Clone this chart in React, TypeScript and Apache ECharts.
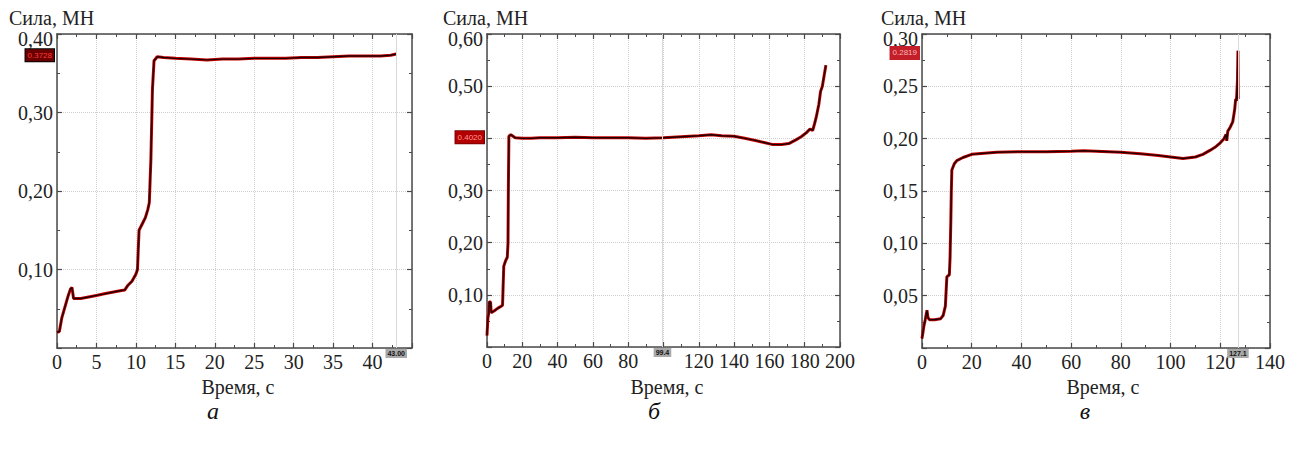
import React, { useEffect, useRef } from "react";
import * as echarts from "echarts";

const FONT = "Liberation Serif";

// ---- Panel а ----
const timeA = [0, 0.3, 0.6, 1.0, 1.4, 1.7, 1.9, 2.1, 3, 4, 5, 6, 7, 8, 8.6, 9.0, 9.5, 10.0, 10.2, 10.4, 10.8, 11.2, 11.5, 11.7, 11.9, 12.1, 12.3, 12.7, 13.5, 15, 17, 19, 21, 23, 25, 27, 29, 31, 33, 35, 37, 39, 41, 42.3, 43];
const forceA = [0.020, 0.021, 0.038, 0.052, 0.066, 0.075, 0.077, 0.063, 0.063, 0.065, 0.067, 0.069, 0.071, 0.073, 0.074, 0.080, 0.085, 0.094, 0.100, 0.150, 0.158, 0.166, 0.176, 0.185, 0.240, 0.330, 0.366, 0.371, 0.370, 0.369, 0.368, 0.367, 0.368, 0.368, 0.369, 0.369, 0.369, 0.370, 0.370, 0.371, 0.372, 0.372, 0.372, 0.373, 0.3745];

// ---- Panel б ----
const timeB = [0, 0.5, 1.0, 1.3, 2.0, 2.4, 4, 6, 8, 8.8, 9.5, 10.5, 11.5, 11.9, 12.1, 12.4, 13.5, 16, 20, 25, 30, 40, 50, 60, 70, 80, 90, 100, 110, 120, 127, 133, 140, 146, 152, 157, 162, 167, 171, 175, 178, 181, 183, 184.5, 185.5, 186.5, 188, 189, 190, 191, 192];
const forceB = [0.022, 0.055, 0.065, 0.087, 0.086, 0.066, 0.069, 0.074, 0.078, 0.080, 0.155, 0.165, 0.172, 0.200, 0.300, 0.404, 0.407, 0.401, 0.400, 0.400, 0.401, 0.401, 0.402, 0.401, 0.401, 0.401, 0.400, 0.401, 0.403, 0.405, 0.407, 0.405, 0.404, 0.400, 0.396, 0.392, 0.388, 0.388, 0.390, 0.397, 0.403, 0.411, 0.418, 0.415, 0.427, 0.440, 0.465, 0.490, 0.500, 0.520, 0.540];

// ---- Panel в ----
const timeC = [0, 0.7, 1.3, 2.0, 2.4, 3, 5, 7.5, 8.5, 9.4, 10.0, 11.0, 11.3, 11.6, 11.8, 12.0, 13, 14, 16.5, 20, 25, 30, 40, 50, 60, 65, 70, 80, 88, 95, 100, 105, 110, 113, 116, 118, 120, 121.5, 122.3, 122.6, 123, 124, 125, 125.8, 126.2, 126.5, 126.9, 127.1, 127.2];
const forceC = [0.009, 0.020, 0.027, 0.036, 0.029, 0.027, 0.027, 0.028, 0.031, 0.040, 0.068, 0.070, 0.087, 0.122, 0.150, 0.170, 0.176, 0.179, 0.182, 0.185, 0.186, 0.187, 0.1875, 0.1875, 0.188, 0.1885, 0.188, 0.187, 0.1855, 0.184, 0.1825, 0.181, 0.1825, 0.185, 0.189, 0.192, 0.196, 0.200, 0.204, 0.198, 0.207, 0.211, 0.216, 0.228, 0.238, 0.236, 0.255, 0.284, 0.238];

// ---- Axes ----
const xMax = [45, 200, 140];
const xInterval = [5, 20, 20];
const yMax = [0.4, 0.6, 0.3];
const yInterval = [0.1, 0.1, 0.05];
const hiddenXLabels = [[45], [100], [] as number[]];
const hiddenYLabels = [[0], [0, 0.4], [0]];

// ---- Cursor read-outs ----
const cursorTime = [43, 99.4, 127.1];
const cursorTimeLabel = ["43.00", "99.4", "127.1"];
const cursorForce = [0.3728, 0.402, 0.2819];
const cursorForceLabel = ["0.3728", "0.4020", "0.2819"];

// ---- Texts ----
const yName = "Сила, МН";
const xName = "Время, с";
const panelLetters = ["а", "б", "в"];

const zip = (t: number[], f: number[]) => t.map((v, i) => [v, f[i]]);
const panelData = [zip(timeA, forceA), zip(timeB, forceB), zip(timeC, forceC)];

const grids = [
  { left: 57, top: 34, width: 355, height: 314 },
  { left: 487, top: 34, width: 353, height: 313 },
  { left: 922, top: 34, width: 348, height: 314 },
];
const yNamePos = [9, 443, 881];
const xNamePos = [238, 667, 1103];
const letterPos = [213, 654, 1085];

const yBadge = [
  { bg: "#6a0000", border: "#000000", color: "#ff3b3b" },
  { bg: "#b40000", border: "#7a0000", color: "#ff9a9a" },
  { bg: "#c41e2a", border: "#c41e2a", color: "#f6b8b8" },
];

const AXIS_COLOR = "#4a4a4a";

function buildOption() {
  const xAxis: any[] = [];
  const yAxis: any[] = [];
  const series: any[] = [];
  for (let i = 0; i < 3; i++) {
    const common = {
      gridIndex: i,
      type: "value",
      min: 0,
      axisLine: { show: true, onZero: false, lineStyle: { color: AXIS_COLOR, width: 1.5 } },
      axisTick: { show: true, inside: true, length: 5, lineStyle: { color: AXIS_COLOR, width: 1.2 } },
      minorTick: { show: true, splitNumber: 2, length: 3, lineStyle: { color: AXIS_COLOR, width: 1 } },
    };
    xAxis.push({
      ...common,
      position: "bottom",
      max: xMax[i],
      interval: xInterval[i],
      axisLabel: {
        show: true,
        margin: 4,
        color: "#222",
        fontFamily: FONT,
        fontSize: 20,
        formatter: (v: number) => (hiddenXLabels[i].includes(v) ? "" : String(v)),
      },
      splitLine: { show: true, lineStyle: { color: "#cfcfcf", type: "dotted", width: 1 } },
      axisPointer: {
        show: true,
        status: "show",
        value: cursorTime[i],
        snap: false,
        triggerTooltip: false,
        type: "line",
        lineStyle: { color: "#d9d9d9", width: 1, type: "solid" },
        label: {
          show: true,
          formatter: () => cursorTimeLabel[i],
          backgroundColor: "#a9a9a9",
          color: "#111",
          fontWeight: "bold",
          fontFamily: "Liberation Sans",
          fontSize: 7,
          padding: [1, 2],
          margin: 1,
          borderRadius: 0,
          shadowBlur: 0,
        },
      },
    });
    xAxis.push({
      ...common,
      position: "top",
      max: xMax[i],
      interval: xInterval[i],
      axisLabel: { show: false },
      splitLine: { show: false },
    });
    yAxis.push({
      ...common,
      position: "left",
      max: yMax[i],
      interval: yInterval[i],
      axisLabel: {
        show: true,
        margin: 4,
        color: "#222",
        fontFamily: FONT,
        fontSize: 20,
        formatter: (v: number) => {
          if (hiddenYLabels[i].some((h) => Math.abs(h - v) < 1e-9)) return "";
          const s = v.toFixed(2).replace(".", ",");
          return Math.abs(v - yMax[i]) < 1e-9 ? "{top|" + s + "}" : s;
        },
        rich: {
          top: { fontFamily: FONT, fontSize: 20, color: "#222", padding: [10, 0, 0, 0] },
        },
      },
      splitLine: { show: true, lineStyle: { color: "#cfcfcf", type: "dotted", width: 1 } },
      axisPointer: {
        show: true,
        status: "show",
        value: cursorForce[i],
        snap: false,
        triggerTooltip: false,
        type: "line",
        lineStyle: { color: "#ffffff", width: 1, opacity: 0 },
        label: {
          show: true,
          formatter: () => cursorForceLabel[i],
          backgroundColor: yBadge[i].bg,
          borderColor: yBadge[i].border,
          borderWidth: 1,
          color: yBadge[i].color,
          fontFamily: "Liberation Sans",
          fontSize: 8,
          padding: [2, 2],
          margin: 3,
          borderRadius: 0,
          shadowBlur: 0,
        },
      },
    });
    yAxis.push({
      ...common,
      position: "right",
      max: yMax[i],
      interval: yInterval[i],
      axisLabel: { show: false },
      splitLine: { show: false },
    });
    series.push({
      type: "line",
      xAxisIndex: 2 * i,
      yAxisIndex: 2 * i,
      data: panelData[i],
      showSymbol: false,
      silent: true,
      lineStyle: { color: "#c80000", width: 3 },
      z: 3,
    });
    series.push({
      type: "line",
      xAxisIndex: 2 * i,
      yAxisIndex: 2 * i,
      data: panelData[i],
      showSymbol: false,
      silent: true,
      lineStyle: { color: "#1e0000", width: 1.4 },
      z: 4,
    });
  }

  const graphic: any[] = [];
  for (let i = 0; i < 3; i++) {
    graphic.push({
      type: "text",
      left: yNamePos[i],
      top: 8,
      style: { text: yName, fontFamily: FONT, fontSize: 20, fill: "#222" },
    });
    graphic.push({
      type: "text",
      x: xNamePos[i],
      y: 387,
      style: { text: xName, fontFamily: FONT, fontSize: 20, fill: "#222", align: "center", verticalAlign: "middle" },
    });
    graphic.push({
      type: "text",
      x: letterPos[i],
      y: 411,
      style: { text: panelLetters[i], fontFamily: FONT, fontSize: 24, fontStyle: "italic", fill: "#111", align: "center", verticalAlign: "middle" },
    });
  }

  return {
    animation: false,
    backgroundColor: "#ffffff",
    grid: grids.map((g) => ({ ...g, containLabel: false })),
    xAxis,
    yAxis,
    series,
    graphic,
  };
}

export default function App() {
  const ref = useRef<HTMLDivElement>(null);
  useEffect(() => {
    if (!ref.current) return;
    const chart = echarts.init(ref.current, null, { renderer: "svg" });
    chart.setOption(buildOption() as any);
    return () => chart.dispose();
  }, []);
  return (
    <div
      ref={ref}
      style={{ position: "absolute", left: 0, top: 0, width: 1290, height: 450, background: "#fff" }}
    />
  );
}
